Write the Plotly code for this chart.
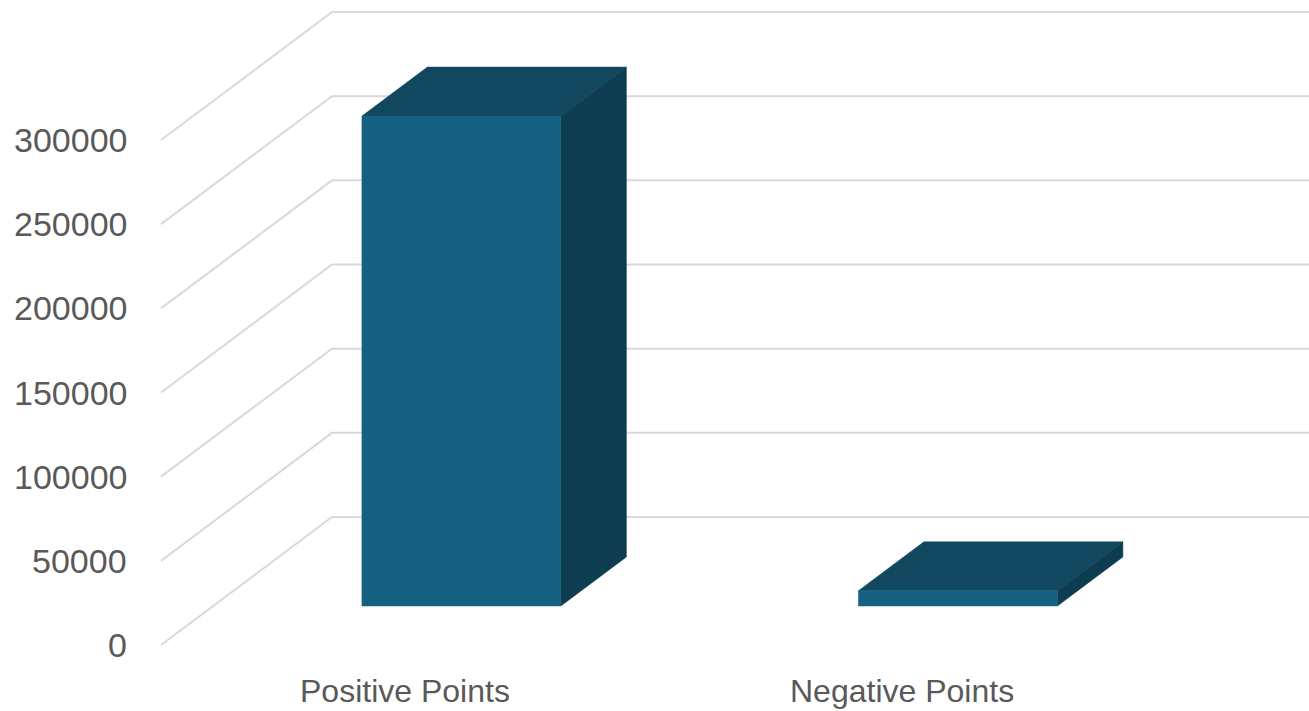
import plotly.graph_objects as go

# ---------------- data ----------------
categories = ["Positive Points", "Negative Points"]
values = [291000, 9000]
tick_values = [0, 50000, 100000, 150000, 200000, 250000, 300000]
tick_labels = ["0", "50000", "100000", "150000", "200000", "250000", "300000"]

# ---------------- layout / projection settings ----------------
W, H = 1309, 711
cat_px = 496.5            # width of one category slot on the front floor edge
x_origin_px = 161         # front-left corner of the floor
px_per_unit = 505 / 300000
y_zero_px = 645           # front floor edge
depth_dx_px, depth_dy_px = 171, 128   # oblique offset front -> back wall
bar_width_frac = 199 / 496.5
d_front, d_back = 0.305, 0.688        # depth position of bars (fraction)

FRONT = "#166082"
TOP = "#114860"
SIDE = "#0e3c50"
GRID = "#d9d9d9"
TEXT = "#595959"
FONT = "Liberation Sans"

xr = [-0.5 - x_origin_px / cat_px, -0.5 + (W - x_origin_px) / cat_px]
yr = [-(H - y_zero_px) / px_per_unit, y_zero_px / px_per_unit]
ddx = depth_dx_px / cat_px
ddy = depth_dy_px / px_per_unit

fig = go.Figure()

# gridlines: front-left diagonal + back wall horizontal
for v in tick_values:
    fig.add_trace(go.Scatter(
        x=[-0.5, -0.5 + ddx, xr[1] + 1],
        y=[v, v + ddy, v + ddy],
        mode="lines", line=dict(color=GRID, width=2),
        hoverinfo="skip", showlegend=False,
    ))


def poly(xs, ys, color):
    fig.add_trace(go.Scatter(
        x=xs + [xs[0]], y=ys + [ys[0]], mode="lines", fill="toself",
        fillcolor=color, line=dict(color=color, width=0.5),
        hoverinfo="skip", showlegend=False,
    ))


for i, (cat, v) in enumerate(zip(categories, values)):
    xl = i - bar_width_frac / 2
    xrt = i + bar_width_frac / 2
    fx, fy = d_front * ddx, d_front * ddy
    bx, by = d_back * ddx, d_back * ddy
    # top face
    poly([xl + fx, xrt + fx, xrt + bx, xl + bx],
         [v + fy, v + fy, v + by, v + by], TOP)
    # right side face
    poly([xrt + fx, xrt + bx, xrt + bx, xrt + fx],
         [fy, by, v + by, v + fy], SIDE)
    # front face
    poly([xl + fx, xrt + fx, xrt + fx, xl + fx],
         [fy, fy, v + fy, v + fy], FRONT)

annotations = []
for v, lab in zip(tick_values, tick_labels):
    annotations.append(dict(
        x=-0.5 - 32 / cat_px, y=v, xref="x", yref="y", text=lab,
        showarrow=False, xanchor="right", yanchor="middle",
        font=dict(family=FONT, size=34, color=TEXT),
    ))
for i, cat in enumerate(categories):
    annotations.append(dict(
        x=i - 4 / cat_px, y=-(691 - y_zero_px) / px_per_unit, xref="x", yref="y",
        text=cat, showarrow=False, xanchor="center", yanchor="middle",
        font=dict(family=FONT, size=32, color=TEXT),
    ))

fig.update_layout(
    width=W, height=H,
    margin=dict(l=0, r=0, t=0, b=0),
    paper_bgcolor="white", plot_bgcolor="white",
    xaxis=dict(range=xr, visible=False, fixedrange=True),
    yaxis=dict(range=yr, visible=False, fixedrange=True),
    annotations=annotations,
    showlegend=False,
)

fig.write_html("out.html")
